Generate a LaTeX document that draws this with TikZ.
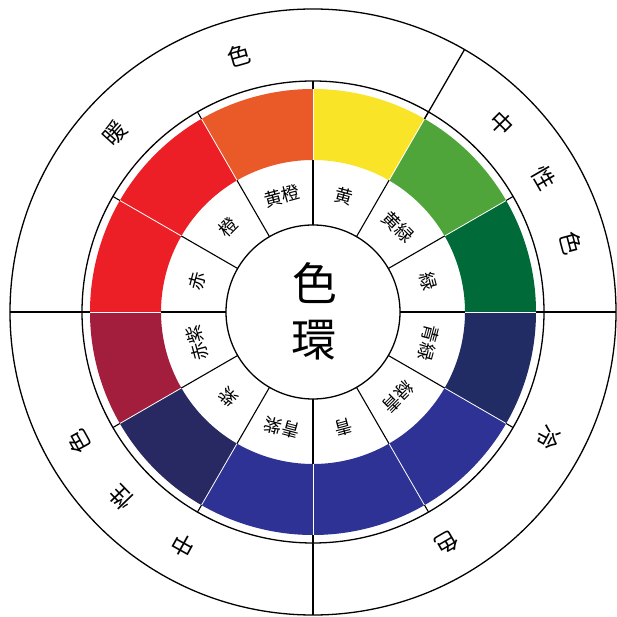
\documentclass[tikz,border=0pt]{standalone}
\usepackage{fontspec}
\newfontfamily\jp{Noto Sans CJK JP}
\definecolor{cDG}{RGB}{0,106,56}
\definecolor{cG}{RGB}{80,165,58}
\definecolor{cY}{RGB}{250,228,40}
\definecolor{cO}{RGB}{234,90,40}
\definecolor{cR}{RGB}{236,30,38}
\definecolor{cC}{RGB}{162,30,60}
\definecolor{cN}{RGB}{40,40,98}
\definecolor{cB}{RGB}{46,50,148}
\definecolor{cNB}{RGB}{34,44,100}
\tikzset{
  ringline/.style={black, line width=1.3pt},
  divline/.style={black, line width=1.1pt},
  sepline/.style={white, line width=0.8pt},
  lbl/.style={font=\jp\fontsize{18}{18}\selectfont, inner sep=0pt},
  outlbl/.style={font=\jp\fontsize{23}{23}\selectfont, inner sep=0pt},
  ctr/.style={font=\jp\fontsize{45}{45}\selectfont, inner sep=0pt}
}
\begin{document}
\begin{tikzpicture}[x=1pt,y=1pt]
\useasboundingbox[fill=white] (-313,-305) rectangle (304,312);
% colour segments
\foreach \a/\c in {0/cDG,30/cG,60/cY,90/cO,120/cR,150/cR,180/cC,210/cN,240/cB,270/cB,300/cB,330/cNB}{
  \fill[\c] (\a:152) arc[start angle=\a, end angle=\a+30, radius=152]
     -- (\a+30:223) arc[start angle=\a+30, end angle=\a, radius=223] -- cycle;
}
\foreach \a in {0,30,...,330}{
  \draw[sepline] (\a:152) -- (\a:223);
}
% circles
\draw[ringline] (0,0) circle[radius=87];
\draw[ringline] (0,0) circle[radius=231];
\draw[ringline] (0,0) circle[radius=303];
% label ring dividers and ticks
\foreach \a in {0,30,...,330}{
  \draw[divline] (\a:87) -- (\a:152);
  \draw[divline] (\a:223) -- (\a:231);
}
% outer dividers
\foreach \a in {0,60,180,270}{
  \draw[ringline] (\a:223) -- (\a:303);
}
% labels in label ring
\foreach \a/\t [count=\i] in {105/黄橙,75/黄,45/黄緑,15/緑,-15/青緑,-45/緑青,-75/青,-105/青紫,-135/紫,-165/赤紫,165/赤,135/橙}{
  \node[lbl, rotate=\a-90] (l\i) at (\a:120) {\t};
}
% outer labels
\foreach \a/\t [count=\i] in {138/暖,106/色,45/中,30/性,15/色,-28/冷,-60/色,241/中,224/性,209/色}{
  \node[outlbl, rotate=\a-90] (o\i) at (\a:267) {\t};
}
% centre
\node[ctr] (c1) at (2,29) {色};
\node[ctr] (c2) at (1,-28) {環};
\end{tikzpicture}
\end{document}
